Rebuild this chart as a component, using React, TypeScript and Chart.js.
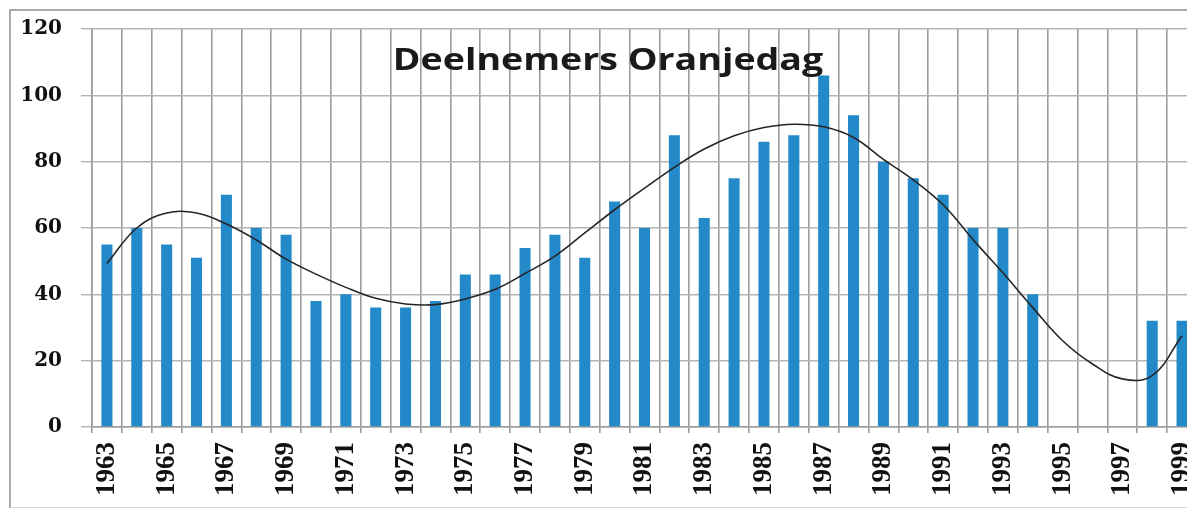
import React, { useEffect, useRef } from "react";
import { Chart, registerables } from "chart.js";

Chart.register(...registerables);

const chartTitle = "Deelnemers Oranjedag";

const years = [
  "1963", "1964", "1965", "1966", "1967", "1968", "1969", "1970", "1971", "1972",
  "1973", "1974", "1975", "1976", "1977", "1978", "1979", "1980", "1981", "1982",
  "1983", "1984", "1985", "1986", "1987", "1988", "1989", "1990", "1991", "1992",
  "1993", "1994", "1995", "1996", "1997", "1998", "1999",
];

const participants: (number | null)[] = [
  55, 60, 55, 51, 70, 60, 58, 38, 40, 36,
  36, 38, 46, 46, 54, 58, 51, 68, 60, 88,
  63, 75, 86, 88, 106, 94, 80, 75, 70, 60,
  60, 40, null, null, null, 32, 32,
];

const trend = [
  49.3, 60, 64.5, 64.5, 61.2, 56.4, 50.6, 46.1, 42.1, 38.8,
  37.1, 36.9, 38.6, 41.5, 46.3, 51.5, 58.5, 65.5, 72, 78.3,
  83.8, 87.8, 90.3, 91.3, 90.5, 87.3, 80.7, 74.5, 67, 56.5,
  46.5, 36, 26, 19, 14.5, 15.5, 27.5,
];

const yTicks = { min: 0, max: 120, step: 20 };

function zeroPadding(s: any) {
  s.paddingTop = 0;
  s.paddingBottom = 0;
  s.paddingLeft = 0;
  s.paddingRight = 0;
}

export default function App() {
  const canvasRef = useRef<HTMLCanvasElement | null>(null);
  const titleRef = useRef<HTMLSpanElement | null>(null);

  useEffect(() => {
    if (titleRef.current) {
      const w = titleRef.current.offsetWidth;
      if (w > 0) {
        titleRef.current.style.transform = `translateX(-50%) scaleX(${431 / w})`;
      }
    }
    const canvas = canvasRef.current;
    if (!canvas) return;
    const chart = new Chart(canvas, {
      type: "bar",
      data: {
        labels: years,
        datasets: [
          {
            type: "line",
            data: trend,
            borderColor: "#262626",
            borderWidth: 1.6,
            pointRadius: 0,
            tension: 0.4,
            fill: false,
            order: 0,
          } as any,
          {
            type: "bar",
            data: participants,
            backgroundColor: "#2389c8",
            barPercentage: 0.37,
            categoryPercentage: 1,
            order: 1,
          },
        ],
      },
      options: {
        animation: false,
        responsive: true,
        maintainAspectRatio: false,
        layout: { padding: { top: 18, right: 4, left: 0, bottom: 0 }, autoPadding: false } as any,
        plugins: {
          legend: { display: false },
          tooltip: { enabled: false },
          title: { display: false },
        },
        scales: {
          x: {
            grid: { color: "#9c9c9c", lineWidth: 1.6, offset: true, tickLength: 6, drawTicks: true },
            border: { color: "#9c9c9c", width: 1.6 },
            ticks: {
              autoSkip: false,
              minRotation: 90,
              maxRotation: 90,
              padding: 9,
              color: "#111",
              font: { family: "Liberation Serif", weight: "bold", size: 27 },
              callback: (_v: any, i: number) => (i % 2 === 0 ? years[i] : ""),
            },
            afterFit: (s: any) => {
              s.height = 79;
              zeroPadding(s);
            },
          },
          y: {
            min: yTicks.min,
            max: yTicks.max,
            ticks: {
              stepSize: yTicks.step,
              padding: 19,
              color: "#111",
              font: { family: "DejaVu Serif", weight: "bold", size: 20 },
            },
            grid: { color: "#b4b4b4", lineWidth: 1.4, tickLength: 11 },
            border: { display: true, color: "#9c9c9c", width: 1.6 },
            afterFit: (s: any) => {
              s.width = 81;
              zeroPadding(s);
            },
          },
        },
      },
    });
    return () => chart.destroy();
  }, []);

  return (
    <div
      style={{
        position: "relative",
        left: 1,
        top: 1,
        width: 1186,
        height: 500,
        boxSizing: "border-box",
        borderTop: "2px solid #ababab",
        borderLeft: "2px solid #ababab",
        borderBottom: "2px solid #d8d8d8",
        overflow: "hidden",
        background: "#fff",
      }}
    >
      <div style={{ position: "absolute", left: 0, top: 0, width: 1190, height: 495 }}>
        <canvas ref={canvasRef} />
      </div>
      <span
        ref={titleRef}
        style={{
          position: "absolute",
          left: 596.5,
          top: 31.5,
          fontFamily: "'Open Sans', sans-serif",
          fontWeight: 700,
          fontSize: 31,
          lineHeight: "31px",
          color: "#1a1a1a",
          whiteSpace: "nowrap",
          transform: "translateX(-50%)",
          transformOrigin: "center",
        }}
      >
        {chartTitle}
      </span>
    </div>
  );
}
